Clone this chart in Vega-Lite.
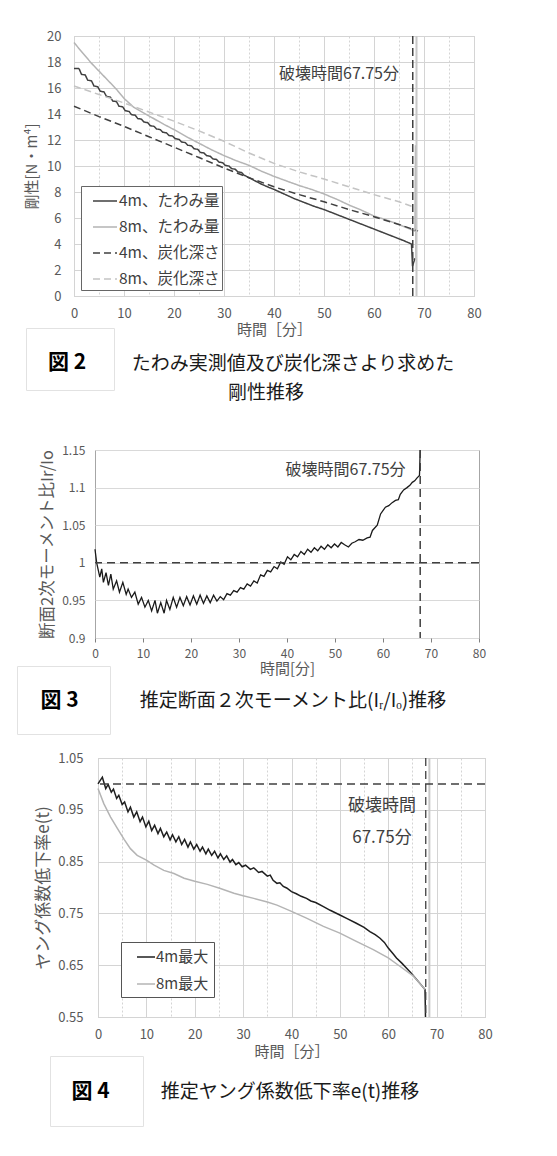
{
  "$schema": "https://vega.github.io/schema/vega-lite/v6.json",
  "background": "white",
  "padding": {"left": 16, "top": 29, "right": 5, "bottom": 5},
  "config": {
    "view": {"stroke": null},
    "font": "Noto Sans CJK JP",
    "axis": {"labelFont": "Noto Sans CJK JP", "titleFont": "Noto Sans CJK JP", "labelColor": "#595959", "titleColor": "#595959", "titleFontWeight": "normal", "labelOverlap": false},
    "legend": {"labelFont": "Noto Sans CJK JP"},
    "text": {"font": "Noto Sans CJK JP"}
  },
  "datasets": {
    "one": [{}],
    "stiff": [
      {"s":"4m、たわみ量","t":0,"v":17.5},{"s":"4m、たわみ量","t":1,"v":17.5},{"s":"4m、たわみ量","t":1.5,"v":17.05},{"s":"4m、たわみ量","t":2.25,"v":17.0},{"s":"4m、たわみ量","t":2.75,"v":16.6},{"s":"4m、たわみ量","t":3.5,"v":16.55},{"s":"4m、たわみ量","t":4,"v":16.15},{"s":"4m、たわみ量","t":4.75,"v":16.1},{"s":"4m、たわみ量","t":5.25,"v":15.75},{"s":"4m、たわみ量","t":6,"v":15.7},{"s":"4m、たわみ量","t":6.5,"v":15.35},{"s":"4m、たわみ量","t":7.25,"v":15.3},{"s":"4m、たわみ量","t":7.75,"v":15.0},{"s":"4m、たわみ量","t":8.5,"v":14.95},{"s":"4m、たわみ量","t":9,"v":14.6},{"s":"4m、たわみ量","t":9.75,"v":14.55},{"s":"4m、たわみ量","t":10.25,"v":14.25},{"s":"4m、たわみ量","t":11,"v":14.2},{"s":"4m、たわみ量","t":11.5,"v":13.95},{"s":"4m、たわみ量","t":12.25,"v":13.9},{"s":"4m、たわみ量","t":12.75,"v":13.65},{"s":"4m、たわみ量","t":13.5,"v":13.6},{"s":"4m、たわみ量","t":14,"v":13.38},{"s":"4m、たわみ量","t":14.75,"v":13.33},{"s":"4m、たわみ量","t":15.25,"v":13.1},{"s":"4m、たわみ量","t":16,"v":13.05},{"s":"4m、たわみ量","t":16.5,"v":12.85},{"s":"4m、たわみ量","t":17.25,"v":12.8},{"s":"4m、たわみ量","t":17.75,"v":12.6},{"s":"4m、たわみ量","t":18.5,"v":12.55},{"s":"4m、たわみ量","t":19,"v":12.35},{"s":"4m、たわみ量","t":19.75,"v":12.3},{"s":"4m、たわみ量","t":20.25,"v":12.1},{"s":"4m、たわみ量","t":21,"v":12.05},{"s":"4m、たわみ量","t":21.5,"v":11.85},{"s":"4m、たわみ量","t":22.25,"v":11.8},{"s":"4m、たわみ量","t":22.75,"v":11.6},{"s":"4m、たわみ量","t":23.5,"v":11.55},{"s":"4m、たわみ量","t":24,"v":11.33},{"s":"4m、たわみ量","t":24.75,"v":11.28},{"s":"4m、たわみ量","t":25.25,"v":11.05},{"s":"4m、たわみ量","t":26,"v":11.0},{"s":"4m、たわみ量","t":26.5,"v":10.8},{"s":"4m、たわみ量","t":27.25,"v":10.75},{"s":"4m、たわみ量","t":27.75,"v":10.55},{"s":"4m、たわみ量","t":28.5,"v":10.5},{"s":"4m、たわみ量","t":29,"v":10.3},{"s":"4m、たわみ量","t":29.75,"v":10.25},{"s":"4m、たわみ量","t":30.25,"v":10.05},{"s":"4m、たわみ量","t":31,"v":10.0},{"s":"4m、たわみ量","t":31.5,"v":9.8},{"s":"4m、たわみ量","t":32.25,"v":9.75},{"s":"4m、たわみ量","t":32.75,"v":9.55},{"s":"4m、たわみ量","t":33.5,"v":9.5},{"s":"4m、たわみ量","t":34,"v":9.3},{"s":"4m、たわみ量","t":35,"v":9.1},{"s":"4m、たわみ量","t":36,"v":8.9},{"s":"4m、たわみ量","t":37.5,"v":8.6},{"s":"4m、たわみ量","t":39,"v":8.35},{"s":"4m、たわみ量","t":40,"v":8.2},{"s":"4m、たわみ量","t":42,"v":7.85},{"s":"4m、たわみ量","t":44,"v":7.5},{"s":"4m、たわみ量","t":46,"v":7.2},{"s":"4m、たわみ量","t":48,"v":6.9},{"s":"4m、たわみ量","t":50,"v":6.65},{"s":"4m、たわみ量","t":52,"v":6.35},{"s":"4m、たわみ量","t":54,"v":6.05},{"s":"4m、たわみ量","t":56,"v":5.75},{"s":"4m、たわみ量","t":58,"v":5.45},{"s":"4m、たわみ量","t":60,"v":5.15},{"s":"4m、たわみ量","t":62,"v":4.85},{"s":"4m、たわみ量","t":64,"v":4.55},{"s":"4m、たわみ量","t":66,"v":4.25},{"s":"4m、たわみ量","t":67.5,"v":4.0},{"s":"4m、たわみ量","t":67.7,"v":2.3},{"s":"4m、たわみ量","t":68.2,"v":2.9},
      {"s":"8m、たわみ量","t":0,"v":19.5},{"s":"8m、たわみ量","t":1.5,"v":18.8},{"s":"8m、たわみ量","t":3.5,"v":17.9},{"s":"8m、たわみ量","t":5,"v":17.3},{"s":"8m、たわみ量","t":7,"v":16.5},{"s":"8m、たわみ量","t":8.5,"v":15.9},{"s":"8m、たわみ量","t":10,"v":15.2},{"s":"8m、たわみ量","t":12,"v":14.5},{"s":"8m、たわみ量","t":15,"v":13.85},{"s":"8m、たわみ量","t":18,"v":13.2},{"s":"8m、たわみ量","t":20,"v":12.8},{"s":"8m、たわみ量","t":22.5,"v":12.25},{"s":"8m、たわみ量","t":25,"v":11.75},{"s":"8m、たわみ量","t":27.5,"v":11.25},{"s":"8m、たわみ量","t":30,"v":10.8},{"s":"8m、たわみ量","t":32.5,"v":10.4},{"s":"8m、たわみ量","t":35,"v":10.05},{"s":"8m、たわみ量","t":37.5,"v":9.6},{"s":"8m、たわみ量","t":40,"v":9.2},{"s":"8m、たわみ量","t":42.5,"v":8.85},{"s":"8m、たわみ量","t":45,"v":8.5},{"s":"8m、たわみ量","t":47.5,"v":8.2},{"s":"8m、たわみ量","t":50,"v":7.85},{"s":"8m、たわみ量","t":52.5,"v":7.45},{"s":"8m、たわみ量","t":55,"v":7.0},{"s":"8m、たわみ量","t":57.5,"v":6.6},{"s":"8m、たわみ量","t":60,"v":6.15},{"s":"8m、たわみ量","t":62.5,"v":5.85},{"s":"8m、たわみ量","t":65,"v":5.5},{"s":"8m、たわみ量","t":67.5,"v":5.1},{"s":"8m、たわみ量","t":68.2,"v":5.0},{"s":"8m、たわみ量","t":68.3,"v":11.6},{"s":"8m、たわみ量","t":68.4,"v":2.8},
      {"s":"4m、炭化深さ","t":0,"v":14.6},{"s":"4m、炭化深さ","t":5,"v":13.8},{"s":"4m、炭化深さ","t":10,"v":13.05},{"s":"4m、炭化深さ","t":15,"v":12.25},{"s":"4m、炭化深さ","t":20,"v":11.45},{"s":"4m、炭化深さ","t":25,"v":10.65},{"s":"4m、炭化深さ","t":30,"v":9.85},{"s":"4m、炭化深さ","t":35,"v":9.1},{"s":"4m、炭化深さ","t":40,"v":8.4},{"s":"4m、炭化深さ","t":45,"v":7.8},{"s":"4m、炭化深さ","t":50,"v":7.25},{"s":"4m、炭化深さ","t":55,"v":6.65},{"s":"4m、炭化深さ","t":60,"v":6.1},{"s":"4m、炭化深さ","t":65,"v":5.5},{"s":"4m、炭化深さ","t":68.8,"v":5.0},
      {"s":"8m、炭化深さ","t":0,"v":16.15},{"s":"8m、炭化深さ","t":5,"v":15.5},{"s":"8m、炭化深さ","t":10,"v":14.85},{"s":"8m、炭化深さ","t":15,"v":14.15},{"s":"8m、炭化深さ","t":20,"v":13.45},{"s":"8m、炭化深さ","t":25,"v":12.7},{"s":"8m、炭化深さ","t":30,"v":11.9},{"s":"8m、炭化深さ","t":35,"v":11.0},{"s":"8m、炭化深さ","t":40,"v":10.2},{"s":"8m、炭化深さ","t":45,"v":9.55},{"s":"8m、炭化深さ","t":50,"v":9.0},{"s":"8m、炭化深さ","t":55,"v":8.4},{"s":"8m、炭化深さ","t":60,"v":7.8},{"s":"8m、炭化深さ","t":65,"v":7.25},{"s":"8m、炭化深さ","t":67.5,"v":6.9}
    ],
    "ratio": [
      {"t":0,"v":1.018},{"t":0.35,"v":1.0},{"t":1.0,"v":0.981},{"t":1.4,"v":0.992},{"t":1.75,"v":0.974},{"t":2.3,"v":0.987},{"t":2.8,"v":0.97},{"t":3.3,"v":0.985},{"t":3.8,"v":0.965},{"t":4.5,"v":0.976},{"t":5.1,"v":0.961},{"t":5.8,"v":0.974},{"t":6.5,"v":0.958},{"t":6.9,"v":0.965},{"t":7.6,"v":0.954},{"t":8.3,"v":0.961},{"t":9.0,"v":0.945},{"t":9.7,"v":0.954},{"t":10.4,"v":0.941},{"t":11.1,"v":0.95},{"t":11.8,"v":0.936},{"t":12.5,"v":0.95},{"t":13.0,"v":0.933},{"t":13.7,"v":0.947},{"t":14.4,"v":0.933},{"t":14.9,"v":0.95},{"t":15.6,"v":0.938},{"t":16.3,"v":0.954},{"t":17.0,"v":0.941},{"t":17.7,"v":0.954},{"t":18.4,"v":0.943},{"t":19.1,"v":0.955},{"t":19.8,"v":0.944},{"t":20.5,"v":0.956},{"t":21.2,"v":0.945},{"t":21.9,"v":0.957},{"t":22.6,"v":0.946},{"t":23.3,"v":0.956},{"t":24.0,"v":0.947},{"t":24.7,"v":0.957},{"t":25.4,"v":0.949},{"t":26.1,"v":0.955},{"t":26.8,"v":0.951},{"t":27.5,"v":0.959},{"t":28.2,"v":0.957},{"t":28.9,"v":0.963},{"t":29.6,"v":0.961},{"t":30.3,"v":0.967},{"t":31.0,"v":0.965},{"t":31.7,"v":0.972},{"t":32.4,"v":0.969},{"t":33.1,"v":0.976},{"t":33.8,"v":0.973},{"t":34.5,"v":0.984},{"t":35.2,"v":0.982},{"t":35.9,"v":0.99},{"t":36.6,"v":0.988},{"t":37.3,"v":0.995},{"t":38.0,"v":0.992},{"t":38.7,"v":1.001},{"t":39.4,"v":0.998},{"t":40.1,"v":1.008},{"t":40.8,"v":1.004},{"t":41.5,"v":1.011},{"t":42.2,"v":1.008},{"t":42.9,"v":1.015},{"t":43.6,"v":1.011},{"t":44.3,"v":1.018},{"t":45.0,"v":1.014},{"t":45.7,"v":1.02},{"t":46.4,"v":1.016},{"t":47.1,"v":1.022},{"t":47.8,"v":1.018},{"t":48.5,"v":1.024},{"t":49.2,"v":1.02},{"t":49.9,"v":1.025},{"t":50.6,"v":1.021},{"t":51.3,"v":1.027},{"t":52.0,"v":1.024},{"t":52.8,"v":1.021},{"t":53.5,"v":1.026},{"t":54.2,"v":1.028},{"t":55.0,"v":1.031},{"t":55.8,"v":1.03},{"t":56.7,"v":1.033},{"t":57.3,"v":1.034},{"t":57.8,"v":1.043},{"t":58.8,"v":1.05},{"t":59.5,"v":1.065},{"t":60.5,"v":1.074},{"t":61.2,"v":1.076},{"t":61.9,"v":1.08},{"t":62.6,"v":1.083},{"t":63.2,"v":1.084},{"t":63.6,"v":1.091},{"t":64.3,"v":1.097},{"t":65.0,"v":1.1},{"t":65.6,"v":1.103},{"t":66.1,"v":1.107},{"t":66.6,"v":1.109},{"t":67.1,"v":1.113},{"t":67.6,"v":1.116},{"t":67.75,"v":1.15}
    ],
    "young": [
      {"s":"4m最大","t":0,"v":1.0},{"s":"4m最大","t":0.9,"v":1.013},{"s":"4m最大","t":1.6,"v":0.991},{"s":"4m最大","t":2.1,"v":0.999},{"s":"4m最大","t":2.75,"v":0.984},{"s":"4m最大","t":3.2,"v":0.99},{"s":"4m最大","t":3.85,"v":0.972},{"s":"4m最大","t":4.3,"v":0.978},{"s":"4m最大","t":5.0,"v":0.96},{"s":"4m最大","t":5.5,"v":0.965},{"s":"4m最大","t":6.2,"v":0.946},{"s":"4m最大","t":6.7,"v":0.955},{"s":"4m最大","t":7.4,"v":0.936},{"s":"4m最大","t":8.0,"v":0.946},{"s":"4m最大","t":8.7,"v":0.927},{"s":"4m最大","t":9.2,"v":0.936},{"s":"4m最大","t":9.9,"v":0.917},{"s":"4m最大","t":10.5,"v":0.928},{"s":"4m最大","t":11.1,"v":0.91},{"s":"4m最大","t":11.7,"v":0.92},{"s":"4m最大","t":12.4,"v":0.904},{"s":"4m最大","t":12.9,"v":0.914},{"s":"4m最大","t":13.6,"v":0.898},{"s":"4m最大","t":14.2,"v":0.907},{"s":"4m最大","t":14.9,"v":0.892},{"s":"4m最大","t":15.4,"v":0.902},{"s":"4m最大","t":16.1,"v":0.888},{"s":"4m最大","t":16.7,"v":0.898},{"s":"4m最大","t":17.3,"v":0.883},{"s":"4m最大","t":17.9,"v":0.893},{"s":"4m最大","t":18.6,"v":0.878},{"s":"4m最大","t":19.1,"v":0.888},{"s":"4m最大","t":19.8,"v":0.874},{"s":"4m最大","t":20.4,"v":0.883},{"s":"4m最大","t":21.1,"v":0.87},{"s":"4m最大","t":21.6,"v":0.878},{"s":"4m最大","t":22.3,"v":0.865},{"s":"4m最大","t":22.8,"v":0.874},{"s":"4m最大","t":23.5,"v":0.862},{"s":"4m最大","t":24.1,"v":0.87},{"s":"4m最大","t":24.8,"v":0.857},{"s":"4m最大","t":25.3,"v":0.865},{"s":"4m最大","t":26.0,"v":0.854},{"s":"4m最大","t":26.6,"v":0.861},{"s":"4m最大","t":27.3,"v":0.849},{"s":"4m最大","t":27.8,"v":0.854},{"s":"4m最大","t":28.5,"v":0.844},{"s":"4m最大","t":29.1,"v":0.848},{"s":"4m最大","t":29.8,"v":0.84},{"s":"4m最大","t":30.5,"v":0.843},{"s":"4m最大","t":31.5,"v":0.835},{"s":"4m最大","t":32.2,"v":0.838},{"s":"4m最大","t":33.2,"v":0.829},{"s":"4m最大","t":33.9,"v":0.831},{"s":"4m最大","t":35.0,"v":0.822},{"s":"4m最大","t":35.6,"v":0.824},{"s":"4m最大","t":36.2,"v":0.814},{"s":"4m最大","t":37.0,"v":0.808},{"s":"4m最大","t":37.6,"v":0.809},{"s":"4m最大","t":38.3,"v":0.802},{"s":"4m最大","t":39.0,"v":0.799},{"s":"4m最大","t":40,"v":0.792},{"s":"4m最大","t":41,"v":0.788},{"s":"4m最大","t":42,"v":0.783},{"s":"4m最大","t":43.1,"v":0.779},{"s":"4m最大","t":44,"v":0.774},{"s":"4m最大","t":45,"v":0.771},{"s":"4m最大","t":46.6,"v":0.763},{"s":"4m最大","t":48,"v":0.756},{"s":"4m最大","t":50,"v":0.747},{"s":"4m最大","t":51.5,"v":0.74},{"s":"4m最大","t":53.4,"v":0.731},{"s":"4m最大","t":55,"v":0.723},{"s":"4m最大","t":56.2,"v":0.715},{"s":"4m最大","t":57.3,"v":0.709},{"s":"4m最大","t":58.3,"v":0.702},{"s":"4m最大","t":59.2,"v":0.694},{"s":"4m最大","t":60,"v":0.683},{"s":"4m最大","t":61,"v":0.672},{"s":"4m最大","t":61.7,"v":0.664},{"s":"4m最大","t":62.8,"v":0.654},{"s":"4m最大","t":63.8,"v":0.644},{"s":"4m最大","t":64.9,"v":0.633},{"s":"4m最大","t":65.9,"v":0.622},{"s":"4m最大","t":66.8,"v":0.612},{"s":"4m最大","t":67.6,"v":0.603},{"s":"4m最大","t":67.7,"v":0.55},
      {"s":"8m最大","t":0,"v":0.991},{"s":"8m最大","t":1.2,"v":0.962},{"s":"8m最大","t":2.6,"v":0.936},{"s":"8m最大","t":4.0,"v":0.914},{"s":"8m最大","t":5.4,"v":0.893},{"s":"8m最大","t":6.7,"v":0.875},{"s":"8m最大","t":8.1,"v":0.862},{"s":"8m最大","t":10,"v":0.853},{"s":"8m最大","t":11.6,"v":0.843},{"s":"8m最大","t":13.6,"v":0.833},{"s":"8m最大","t":15.7,"v":0.827},{"s":"8m最大","t":17.8,"v":0.818},{"s":"8m最大","t":20,"v":0.812},{"s":"8m最大","t":22.6,"v":0.806},{"s":"8m最大","t":25.3,"v":0.798},{"s":"8m最大","t":28.1,"v":0.789},{"s":"8m最大","t":30,"v":0.784},{"s":"8m最大","t":32.2,"v":0.779},{"s":"8m最大","t":35,"v":0.772},{"s":"8m最大","t":37,"v":0.766},{"s":"8m最大","t":40,"v":0.754},{"s":"8m最大","t":43.1,"v":0.741},{"s":"8m最大","t":46.6,"v":0.725},{"s":"8m最大","t":50,"v":0.712},{"s":"8m最大","t":53.4,"v":0.696},{"s":"8m最大","t":56.9,"v":0.68},{"s":"8m最大","t":60,"v":0.664},{"s":"8m最大","t":62.4,"v":0.648},{"s":"8m最大","t":65.2,"v":0.629},{"s":"8m最大","t":67.6,"v":0.603}
    ]
  },
  "resolve": {"scale": {"color": "independent", "strokeDash": "independent"}, "legend": {"color": "independent", "strokeDash": "independent"}},
  "spacing": 40,
  "vconcat": [
    {
      "align": "none",
      "spacing": -16,
      "resolve": {"scale": {"color": "independent", "strokeDash": "independent"}, "legend": {"color": "independent", "strokeDash": "independent"}},
      "vconcat": [
        {
          "spacing": 0,
          "resolve": {"scale": {"color": "independent", "strokeDash": "independent"}, "legend": {"color": "independent", "strokeDash": "independent"}},
          "hconcat": [
            {"data": {"name": "one"}, "width": 6, "height": 1, "mark": {"type": "text"}, "encoding": {"text": {"value": ""}}},
            {
              "width": 400, "height": 260,
              "view": {"stroke": "#c4c4c4"},
              "layer": [
                {
                  "data": {"name": "stiff"},
                  "mark": {"type": "line", "strokeWidth": 1.5},
                  "encoding": {
                    "x": {"field": "t", "type": "quantitative", "scale": {"domain": [0, 80], "nice": false},
                      "axis": {"title": "時間［分］", "values": [0,5,10,15,20,25,30,35,40,45,50,55,60,65,70,75,80], "tickCount": 100, "format": "d", "labelExpr": "datum.value % 10 === 0 ? datum.label : ''", "labelOverlap": false, "grid": true, "gridColor": "#d4d4d4", "gridDash": {"condition": {"test": "datum.value % 10 !== 0", "value": [2, 2]}, "value": []}, "domain": false, "ticks": false, "tickSize": 0, "labelFlush": false, "labelPadding": 11, "labelFontSize": 13, "titleFontSize": 15, "titlePadding": 2}},
                    "y": {"field": "v", "type": "quantitative", "scale": {"domain": [0, 20], "nice": false},
                      "axis": {"title": "剛性[N・m⁴]", "values": [0,2,4,6,8,10,12,14,16,18,20], "tickCount": 100, "format": "d", "labelOverlap": false, "grid": true, "gridColor": "#d4d4d4", "domain": false, "ticks": false, "tickSize": 0, "labelPadding": 13, "labelFontSize": 13, "titleFontSize": 15, "titlePadding": 7, "minExtent": 28, "maxExtent": 28}},
                    "color": {"field": "s", "type": "nominal", "scale": {"domain": ["4m、たわみ量", "8m、たわみ量", "4m、炭化深さ", "8m、炭化深さ"], "range": ["#404040", "#b4b4b4", "#404040", "#c4c4c4"]},
                      "legend": {"title": null, "orient": "none", "legendX": 7, "legendY": 150, "direction": "vertical", "symbolType": "stroke", "symbolSize": 576, "symbolStrokeWidth": 1.5, "labelFontSize": 15.5, "labelColor": "#404040", "padding": 2, "rowPadding": 4, "symbolOffset": 9, "labelOffset": 1, "strokeColor": "#666666", "fillColor": "white"}},
                    "strokeDash": {"field": "s", "type": "nominal", "scale": {"domain": ["4m、たわみ量", "8m、たわみ量", "4m、炭化深さ", "8m、炭化深さ"], "range": [[1, 0], [1, 0], [7, 4], [7, 4]]},
                      "legend": {"title": null, "orient": "none", "legendX": 7, "legendY": 150, "direction": "vertical", "symbolType": "stroke", "symbolSize": 576, "symbolStrokeWidth": 1.5, "labelFontSize": 15.5, "labelColor": "#404040", "padding": 2, "rowPadding": 4, "symbolOffset": 9, "labelOffset": 1, "strokeColor": "#666666", "fillColor": "white"}}
                  }
                },
                {"data": {"name": "one"}, "mark": {"type": "rule", "color": "#c8c8c8", "strokeWidth": 2}, "encoding": {"x": {"datum": 68.5}}},
                {"data": {"name": "one"}, "mark": {"type": "rule", "color": "#404040", "strokeWidth": 1.5, "strokeDash": [8, 4]}, "encoding": {"x": {"datum": 67.75}}},
                {"data": {"name": "one"}, "mark": {"type": "text", "align": "right", "baseline": "middle", "fontSize": 16, "color": "#404040"}, "encoding": {"x": {"datum": 65}, "y": {"datum": 17.1}, "text": {"value": "破壊時間67.75分"}}}
              ]
            }
          ]
        },
        {
          "spacing": 0,
          "hconcat": [
            {"data": {"name": "one"}, "width": 8, "height": 1, "mark": {"type": "text"}, "encoding": {"text": {"value": ""}}},
            {"data": {"name": "one"}, "width": 88, "height": 62, "view": {"stroke": "#e2e2e2", "fill": "white"}, "mark": {"type": "text", "fontSize": 21, "fontWeight": "bold", "color": "#000000", "dx": -3, "dy": 4}, "encoding": {"text": {"value": "図 2"}}},
            {"data": {"name": "one"}, "width": 356, "height": 62, "layer": [
              {"mark": {"type": "text", "fontSize": 19, "color": "#1a1a1a", "dy": 5}, "encoding": {"text": {"value": "たわみ実測値及び炭化深さより求めた"}}},
              {"mark": {"type": "text", "fontSize": 19, "color": "#1a1a1a", "dy": 34, "dx": -27}, "encoding": {"text": {"value": "剛性推移"}}}
            ]}
          ]
        }
      ]
    },
    {
      "spacing": 16,
      "resolve": {"scale": {"color": "independent", "strokeDash": "independent"}, "legend": {"color": "independent", "strokeDash": "independent"}},
      "vconcat": [
        {
          "align": "none",
          "spacing": -12,
          "vconcat": [
            {
              "spacing": 0,
              "hconcat": [
                {"data": {"name": "one"}, "width": 21, "height": 1, "mark": {"type": "text"}, "encoding": {"text": {"value": ""}}},
                {
                  "width": 384, "height": 188,
                  "view": {"stroke": "#a6a6a6"},
                  "layer": [
                    {
                      "data": {"name": "ratio"},
                      "mark": {"type": "line", "strokeWidth": 1.3, "color": "#1a1a1a"},
                      "encoding": {
                        "x": {"field": "t", "type": "quantitative", "scale": {"domain": [0, 80], "nice": false},
                          "axis": {"title": "時間[分]", "values": [0,10,20,30,40,50,60,70,80], "tickCount": 100, "format": "d", "labelOverlap": false, "grid": false, "domain": false, "ticks": true, "tickSize": 4, "tickColor": "#808080", "labelFlush": false, "labelPadding": 6, "labelFontSize": 12, "titleFontSize": 15, "titlePadding": 2}},
                        "y": {"field": "v", "type": "quantitative", "scale": {"domain": [0.9, 1.15], "nice": false, "zero": false},
                          "axis": {"title": "断面2次モーメント比Ir/Io", "values": [0.9, 0.95, 1, 1.05, 1.1, 1.15], "tickCount": 100, "labelExpr": "'' + datum.value", "labelOverlap": false, "grid": true, "gridColor": "#d9d9d9", "domain": false, "ticks": false, "tickSize": 0, "labelPadding": 10, "labelFontSize": 12, "titleFontSize": 16.5, "titlePadding": 6, "minExtent": 34, "maxExtent": 34}}
                      }
                    },
                    {"data": {"name": "one"}, "mark": {"type": "rule", "color": "#404040", "strokeWidth": 1.5, "strokeDash": [8, 5]}, "encoding": {"y": {"datum": 1}}},
                    {"data": {"name": "one"}, "mark": {"type": "rule", "color": "#404040", "strokeWidth": 1.5, "strokeDash": [8, 5]}, "encoding": {"x": {"datum": 67.75}}},
                    {"data": {"name": "one"}, "mark": {"type": "text", "align": "right", "baseline": "middle", "fontSize": 16, "color": "#404040"}, "encoding": {"x": {"datum": 64.7}, "y": {"datum": 1.124}, "text": {"value": "破壊時間67.75分"}}}
                  ]
                }
              ]
            },
            {
              "spacing": 0,
              "hconcat": [
                {"data": {"name": "one"}, "width": 93, "height": 68, "view": {"stroke": "#e2e2e2", "fill": "white"}, "mark": {"type": "text", "fontSize": 21, "fontWeight": "bold", "color": "#000000", "dx": -4, "dy": 1}, "encoding": {"text": {"value": "図 3"}}},
                {"data": {"name": "one"}, "width": 364, "height": 68, "mark": {"type": "text", "fontSize": 19, "color": "#1a1a1a", "dy": 1}, "encoding": {"text": {"value": "推定断面２次モーメント比(Iᵣ/Iₒ)推移"}}}
              ]
            }
          ]
        },
        {
          "align": "none",
          "spacing": -10,
          "resolve": {"scale": {"color": "independent", "strokeDash": "independent"}, "legend": {"color": "independent", "strokeDash": "independent"}},
          "vconcat": [
            {
              "spacing": 0,
              "resolve": {"scale": {"color": "independent", "strokeDash": "independent"}, "legend": {"color": "independent", "strokeDash": "independent"}},
              "hconcat": [
                {"data": {"name": "one"}, "width": 16, "height": 1, "mark": {"type": "text"}, "encoding": {"text": {"value": ""}}},
                {
                  "width": 387, "height": 259,
                  "view": {"stroke": "#c4c4c4"},
                  "layer": [
                    {
                      "data": {"name": "young"},
                      "mark": {"type": "line", "strokeWidth": 1.5},
                      "encoding": {
                        "x": {"field": "t", "type": "quantitative", "scale": {"domain": [0, 80], "nice": false},
                          "axis": {"title": "時間［分］", "values": [0,5,10,15,20,25,30,35,40,45,50,55,60,65,70,75,80], "tickCount": 100, "format": "d", "labelExpr": "datum.value % 10 === 0 ? datum.label : ''", "labelOverlap": false, "grid": true, "gridColor": "#d4d4d4", "gridDash": {"condition": {"test": "datum.value % 10 !== 0", "value": [2, 2]}, "value": []}, "domain": false, "ticks": false, "tickSize": 0, "labelFlush": false, "labelPadding": 11, "labelFontSize": 13, "titleFontSize": 15, "titlePadding": 3}},
                        "y": {"field": "v", "type": "quantitative", "scale": {"domain": [0.55, 1.05], "nice": false, "zero": false},
                          "axis": {"title": "ヤング係数低下率e(t)", "values": [0.55, 0.65, 0.75, 0.85, 0.95, 1.05], "tickCount": 100, "format": ".2f", "labelOverlap": false, "grid": true, "gridColor": "#d4d4d4", "domain": false, "ticks": false, "tickSize": 0, "labelPadding": 15, "labelFontSize": 13, "titleFontSize": 17, "titlePadding": 6, "minExtent": 40, "maxExtent": 40}},
                        "color": {"field": "s", "type": "nominal", "scale": {"domain": ["4m最大", "8m最大"], "range": ["#1f1f1f", "#b4b4b4"]},
                          "legend": {"title": null, "orient": "none", "legendX": 23, "legendY": 184, "direction": "vertical", "symbolType": "stroke", "symbolSize": 324, "symbolStrokeWidth": 1.5, "labelFontSize": 15, "labelColor": "#404040", "padding": 5, "rowPadding": 9, "symbolOffset": 10, "labelOffset": 0, "strokeColor": "#555555", "fillColor": "white"}}
                      }
                    },
                    {"data": {"name": "one"}, "mark": {"type": "rule", "color": "#c8c8c8", "strokeWidth": 2}, "encoding": {"x": {"datum": 68.5}}},
                    {"data": {"name": "one"}, "mark": {"type": "rule", "color": "#404040", "strokeWidth": 1.5, "strokeDash": [8, 5]}, "encoding": {"y": {"datum": 1}}},
                    {"data": {"name": "one"}, "mark": {"type": "rule", "color": "#404040", "strokeWidth": 1.3, "strokeDash": [8, 5]}, "encoding": {"x": {"datum": 67.75}}},
                    {"data": {"name": "one"}, "mark": {"type": "text", "align": "center", "baseline": "middle", "fontSize": 17, "color": "#404040"}, "encoding": {"x": {"datum": 58.7}, "y": {"datum": 0.957}, "text": {"value": "破壊時間"}}},
                    {"data": {"name": "one"}, "mark": {"type": "text", "align": "center", "baseline": "middle", "fontSize": 17, "color": "#404040"}, "encoding": {"x": {"datum": 58.7}, "y": {"datum": 0.896}, "text": {"value": "67.75分"}}}
                  ]
                }
              ]
            },
            {
              "spacing": 0,
              "hconcat": [
                {"data": {"name": "one"}, "width": 32, "height": 1, "mark": {"type": "text"}, "encoding": {"text": {"value": ""}}},
                {"data": {"name": "one"}, "width": 93, "height": 70, "view": {"stroke": "#e2e2e2", "fill": "white"}, "mark": {"type": "text", "fontSize": 21, "fontWeight": "bold", "color": "#000000", "dx": -6, "dy": 1}, "encoding": {"text": {"value": "図 4"}}},
                {"data": {"name": "one"}, "width": 292, "height": 70, "mark": {"type": "text", "fontSize": 19, "color": "#1a1a1a", "dy": 1}, "encoding": {"text": {"value": "推定ヤング係数低下率e(t)推移"}}}
              ]
            }
          ]
        }
      ]
    }
  ]
}
